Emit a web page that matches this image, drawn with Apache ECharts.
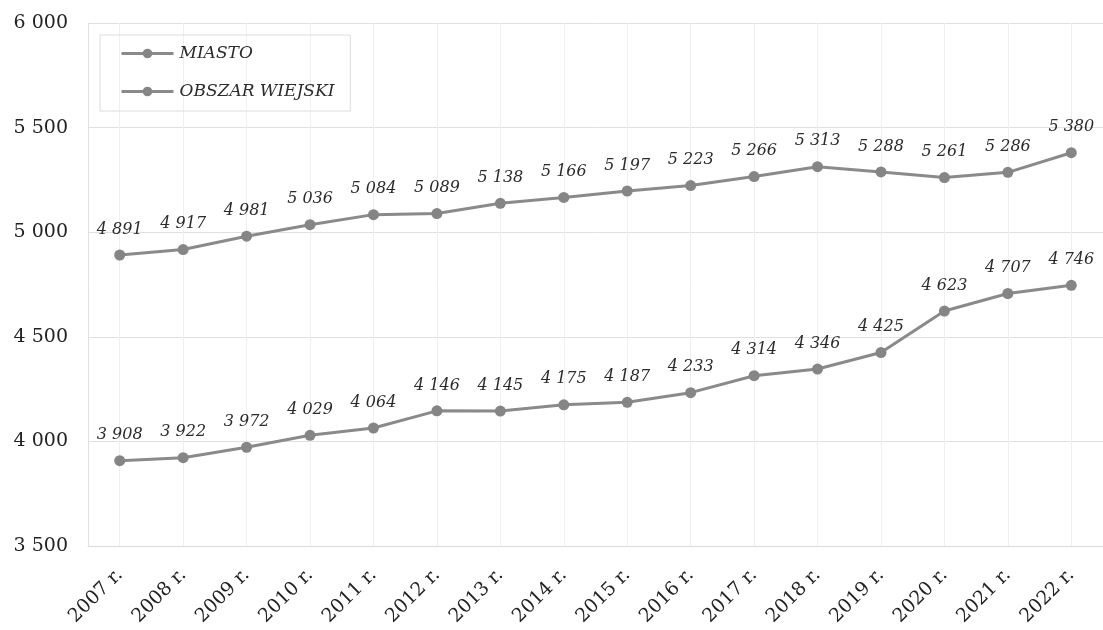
<!DOCTYPE html>
<html>
<head>
<meta charset="utf-8">
<script src="https://cdn.jsdelivr.net/npm/echarts@6/dist/echarts.min.js"></script>
<style>
  html, body { margin: 0; padding: 0; background: #ffffff; }
  #chart { width: 1103px; height: 630px; }
</style>
</head>
<body>
<div id="chart"></div>
<script>
// Years on the category axis
const years = ['2007 r.', '2008 r.', '2009 r.', '2010 r.', '2011 r.', '2012 r.', '2013 r.', '2014 r.',
               '2015 r.', '2016 r.', '2017 r.', '2018 r.', '2019 r.', '2020 r.', '2021 r.', '2022 r.'];

// Series values
const miasto = [4891, 4917, 4981, 5036, 5084, 5089, 5138, 5166, 5197, 5223, 5266, 5313, 5288, 5261, 5286, 5380];
const obszarWiejski = [3908, 3922, 3972, 4029, 4064, 4146, 4145, 4175, 4187, 4233, 4314, 4346, 4425, 4623, 4707, 4746];

// Value axis range
const yMin = 3500;
const yMax = 6000;
const yStep = 500;

// Polish-style thousands separator (space)
function fmt(v) {
  return String(v).replace(/\B(?=(\d{3})+(?!\d))/g, ' ');
}

const lineColor = '#8a8a8a';
const labelFont = 'DejaVu Serif';

function lineSeries(name, values) {
  return {
    name: name,
    type: 'line',
    data: values,
    z: 3,
    symbol: 'circle',
    symbolSize: 11,
    lineStyle: { color: lineColor, width: 3 },
    itemStyle: { color: '#858585' },
    label: {
      show: true,
      position: 'top',
      distance: 12,
      fontFamily: labelFont,
      fontStyle: 'italic',
      fontSize: 16,
      color: '#2b2b2b',
      formatter: p => fmt(p.value)
    }
  };
}

const chart = echarts.init(document.getElementById('chart'), null, { renderer: 'canvas' });

chart.setOption({
  backgroundColor: '#ffffff',
  animation: false,
  grid: { left: 88, top: 23, width: 1015, bottom: 84 },
  legend: {
    orient: 'vertical',
    left: 100,
    top: 35,
    padding: [10, 16, 11, 20],
    itemGap: 21,
    itemWidth: 52,
    itemHeight: 12,
    borderColor: '#dcdcdc',
    borderWidth: 1,
    data: ['MIASTO', 'OBSZAR WIEJSKI'],
    lineStyle: { width: 3, color: lineColor },
    itemStyle: { color: '#858585' },
    textStyle: {
      fontFamily: labelFont,
      fontStyle: 'italic',
      fontSize: 17,
      color: '#2b2b2b',
      padding: [0, 0, 0, 1]
    }
  },
  xAxis: {
    type: 'category',
    data: years,
    boundaryGap: true,
    axisLine: { show: true, lineStyle: { color: '#d9d9d9', width: 1 } },
    axisTick: { show: false },
    splitLine: { show: false },
    axisLabel: {
      rotate: 45,
      margin: 26,
      fontFamily: labelFont,
      fontSize: 19,
      color: '#222222',
      interval: 0
    }
  },
  yAxis: {
    type: 'value',
    min: yMin,
    max: yMax,
    interval: yStep,
    axisLine: { show: true, lineStyle: { color: '#e0e0e0', width: 1 } },
    axisTick: { show: false },
    splitLine: { show: true, lineStyle: { color: '#e0e0e0', width: 1 } },
    axisLabel: {
      margin: 20,
      fontFamily: labelFont,
      fontSize: 19,
      color: '#222222',
      formatter: v => fmt(v)
    }
  },
  series: [
    // Vertical guide lines through each year
    {
      name: 'guides',
      type: 'line',
      data: [],
      z: 1,
      silent: true,
      markLine: {
        silent: true,
        z: 1,
        symbol: ['none', 'none'],
        label: { show: false },
        lineStyle: { color: '#efefef', width: 1, type: 'solid' },
        data: years.map(y => ({ xAxis: y }))
      }
    },
    lineSeries('MIASTO', miasto),
    lineSeries('OBSZAR WIEJSKI', obszarWiejski)
  ]
});
</script>
</body>
</html>
